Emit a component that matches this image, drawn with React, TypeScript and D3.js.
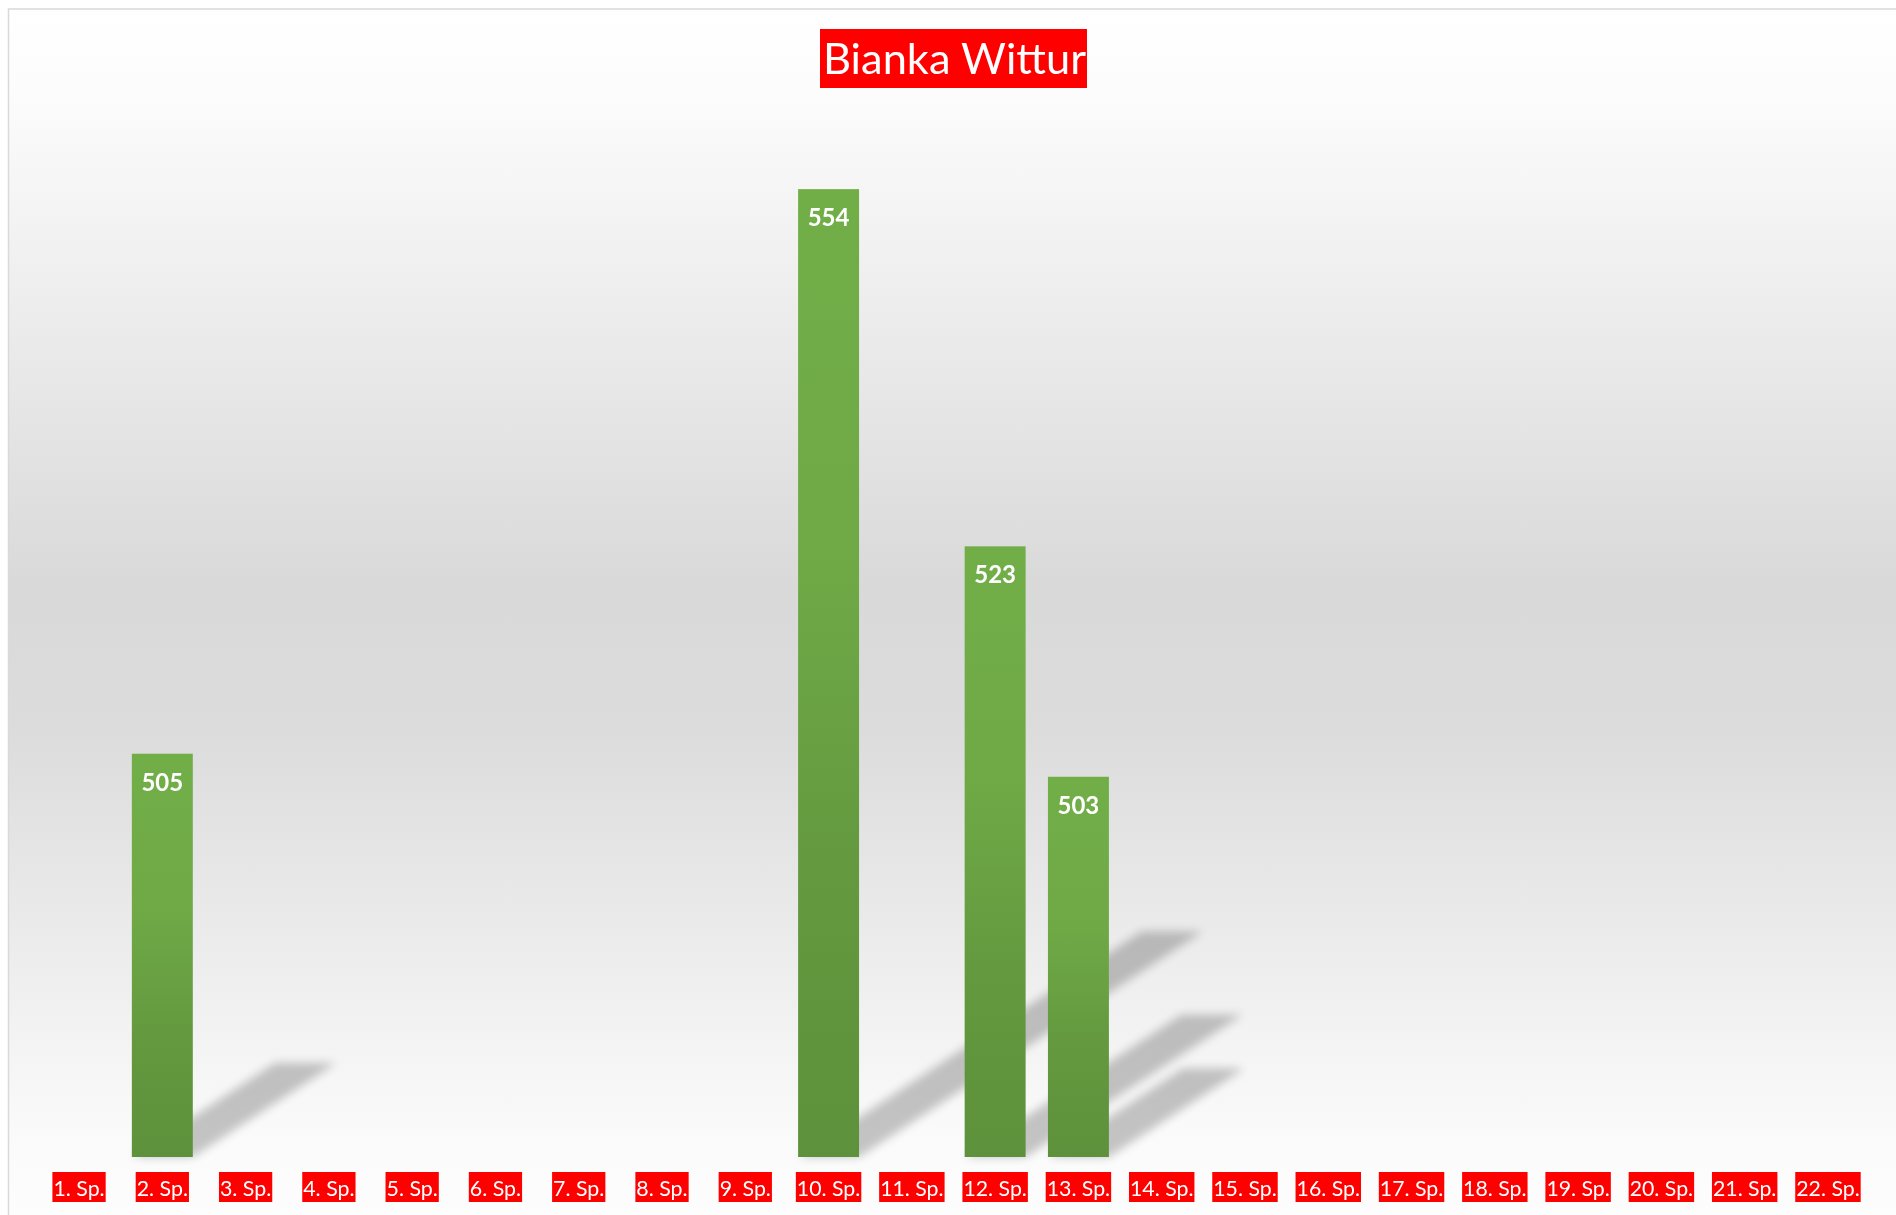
import React from "react";
import * as d3 from "d3";

const TITLE = "Bianka Wittur";

const CATEGORIES = [
  "1. Sp.", "2. Sp.", "3. Sp.", "4. Sp.", "5. Sp.", "6. Sp.", "7. Sp.", "8. Sp.",
  "9. Sp.", "10. Sp.", "11. Sp.", "12. Sp.", "13. Sp.", "14. Sp.", "15. Sp.",
  "16. Sp.", "17. Sp.", "18. Sp.", "19. Sp.", "20. Sp.", "21. Sp.", "22. Sp.",
];

// empty games have no score
const SCORES: (number | null)[] = [
  null, 505, null, null, null, null, null, null, null, 554, null, 523, 503,
  null, null, null, null, null, null, null, null, null,
];

const Y_DOMAIN = [470, 560];

const W = 1896, H = 1215;
const plot = { left: 37.4, right: 1869.6, top: 120, bottom: 1157 };
const FONT = "Lato, 'Open Sans', sans-serif";

export default function App() {
  const x = d3.scaleBand<string>()
    .domain(CATEGORIES)
    .range([plot.left, plot.right])
    .paddingInner(0.268)
    .paddingOuter(0.134);

  const y = d3.scaleLinear().domain(Y_DOMAIN).range([plot.bottom, plot.top]);

  const bars = CATEGORIES.map((c, i) => ({ c, v: SCORES[i] }))
    .filter(d => d.v != null) as { c: string; v: number }[];

  const base = plot.bottom;
  // perspective shadow: lean right and flatten
  const shadowTf = `translate(0,${base}) matrix(1,0,-0.355,0.233,0,0) translate(0,${-base})`;

  return (
    <svg width={W} height={H} style={{ position: "absolute", left: 0, top: 0, display: "block" }}>
      <defs>
        <linearGradient id="bg" gradientUnits="userSpaceOnUse" x1="0" y1="9" x2="0" y2="1215">
          <stop offset="0" stopColor="#ffffff" />
          <stop offset="0.07" stopColor="#fcfcfc" />
          <stop offset="0.48" stopColor="#d9d9d9" />
          <stop offset="0.6" stopColor="#dcdcdc" />
          <stop offset="0.93" stopColor="#fafafa" />
          <stop offset="1" stopColor="#fdfdfd" />
        </linearGradient>
        <linearGradient id="barFill" x1="0" y1="0" x2="0" y2="1">
          <stop offset="0" stopColor="#72ae48" />
          <stop offset="0.4" stopColor="#6ea946" />
          <stop offset="0.7" stopColor="#64993f" />
          <stop offset="1" stopColor="#5e913b" />
        </linearGradient>
        <filter id="blur" filterUnits="userSpaceOnUse" x="0" y="0" width={W} height={H}>
          <feGaussianBlur stdDeviation="5" />
        </filter>
      </defs>

      <rect x={8.5} y={9} width={W} height={H} fill="url(#bg)" stroke="#d9d9d9" strokeWidth={1.5} />

      <g filter="url(#blur)" opacity={0.22}>
        {bars.map(d => (
          <rect key={d.c} transform={shadowTf}
            x={x(d.c)} y={y(d.v)} width={x.bandwidth()} height={base - y(d.v)} fill="#000" />
        ))}
      </g>

      {bars.map(d => (
        <g key={d.c}>
          <rect x={x(d.c)} y={y(d.v)} width={x.bandwidth()} height={base - y(d.v)} fill="url(#barFill)" />
          <text x={x(d.c)! + x.bandwidth() / 2} y={y(d.v) + 37} textAnchor="middle"
            fill="#fff" fontFamily={FONT} fontWeight={700} fontSize={24}>{d.v}</text>
        </g>
      ))}

      {CATEGORIES.map(c => {
        const digits = c.split(".")[0].length;
        const bw = 24 * (1.713 + 0.507 * digits);
        const cx = x(c)! + x.bandwidth() / 2;
        return (
          <g key={c}>
            <rect x={cx - bw / 2} y={1172} width={bw} height={30} fill="#ff0000" />
            <text x={cx - bw / 2 + 1} y={1196} textLength={bw - 2} lengthAdjust="spacingAndGlyphs"
              fill="#fff" fontFamily={FONT} fontSize={22}>{c}</text>
          </g>
        );
      })}

      <g>
        <rect x={(plot.left + plot.right) / 2 - 133.5} y={29} width={267} height={59} fill="#ff0000" />
        <text x={(plot.left + plot.right) / 2 - 130.5} y={74} textLength={263} lengthAdjust="spacingAndGlyphs"
          fill="#fff" fontFamily={FONT} fontSize={43}>{TITLE}</text>
      </g>
    </svg>
  );
}
